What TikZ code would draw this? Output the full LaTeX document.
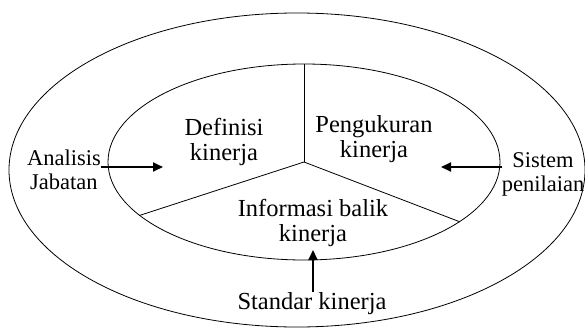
\documentclass[tikz,border=0pt]{standalone}
\usepackage{fontspec}
\setmainfont{Liberation Serif}
\usetikzlibrary{arrows.meta,shapes.geometric}
\begin{document}
\begin{tikzpicture}[x=1pt,y=-1pt,
  ring/.style={ellipse,draw,line width=0.8pt,inner sep=0pt},
  label/.style={align=center,inner sep=0pt,font=\fontsize{24.5}{25.5}\selectfont},
  sidelabel/.style={label,font=\fontsize{22.5}{24}\selectfont},
  spoke/.style={line width=0.8pt},
  feed/.style={line width=1.8pt,-{Triangle[length=10pt,width=9pt]}}]
  \useasboundingbox (0,0) rectangle (585,329);
  % two concentric rings
  \node[ring,minimum width=576pt,minimum height=314pt] (outer) at (297,170) {};
  \node[ring,minimum width=392pt,minimum height=196pt] (inner) at (304,162) {};
  % three sectors of the inner ring
  \coordinate (hub) at (304,162);
  \draw[spoke] (hub) -- (inner.north);
  \draw[spoke] (hub) -- (inner.198.1);
  \draw[spoke] (hub) -- (inner.-21.6);
  % sector labels
  \node[label] (def) at (224,142) {Definisi\\kinerja};
  \node[label] (ukur) at (374,139) {Pengukuran\\kinerja};
  \node[label] (info) at (313,223) {Informasi balik\\kinerja};
  % outside inputs
  \node[sidelabel,anchor=east] (ana) at (101,170) {Analisis\\Jabatan};
  \node[sidelabel] (sis) at (543,174) {Sistem\\penilaian};
  \node[label,anchor=north] (std) at (312,292) {Standar kinerja};
  \coordinate (anaTip) at (163,167);
  \coordinate (sisTip) at (441,167);
  \coordinate (stdTip) at (313,250);
  \draw[feed] (ana.east |- anaTip) -- (anaTip);
  \draw[feed] (sis.west |- sisTip) -- (sisTip);
  \draw[feed] (std.north -| stdTip) -- (stdTip);
\end{tikzpicture}
\end{document}
